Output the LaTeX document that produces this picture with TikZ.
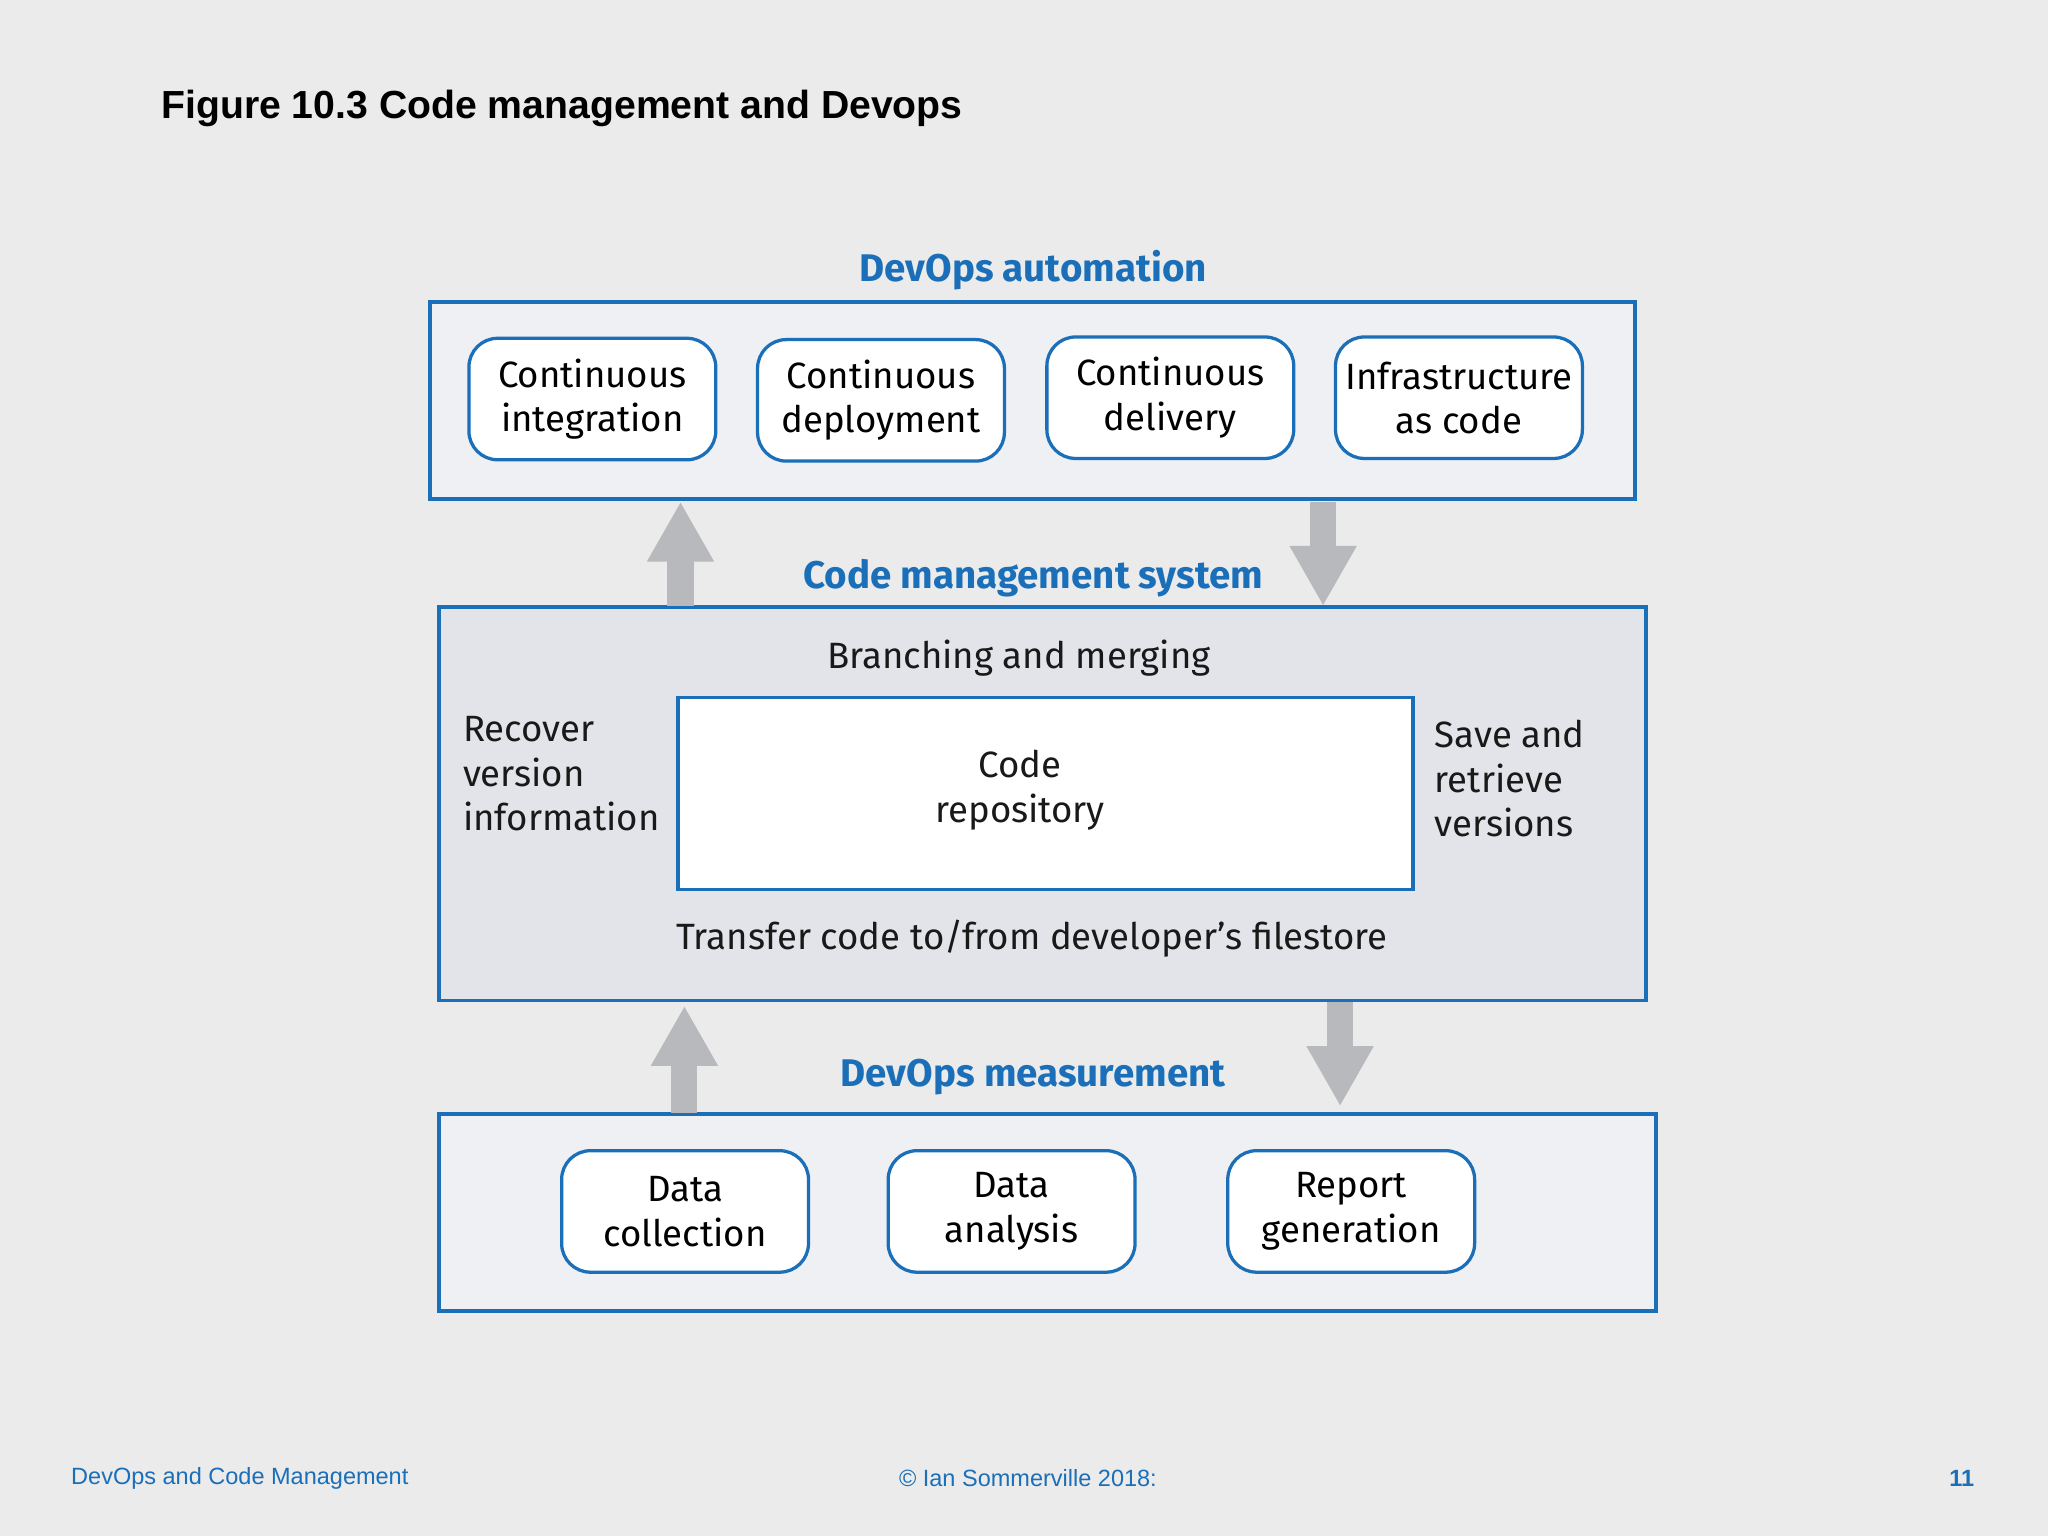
\documentclass[tikz,border=0pt]{standalone}
\usepackage{fontspec}
\setmainfont{Fira Sans}
\newfontfamily\helv{Liberation Sans}
\usetikzlibrary{arrows.meta}
\definecolor{bg}{HTML}{EBEBEC}
\definecolor{dblue}{HTML}{1A6FB8}
\definecolor{boxa}{HTML}{EEF0F4}
\definecolor{boxb}{HTML}{E3E4E9}
\definecolor{arr}{HTML}{B8B9BC}
\tikzset{
  grp/.style={draw=dblue,line width=3pt},
  item/.style={draw=dblue,line width=2.5pt,fill=white,rounded corners=22pt,minimum width=189pt,minimum height=93pt,align=center,font=\fontsize{28}{34}\selectfont,inner sep=0pt},
  ttl/.style={text=dblue,font=\fontsize{29.5}{34}\selectfont\bfseries},
  txt/.style={font=\fontsize{28}{34}\selectfont,text=black!90},
  garrow/.style={draw=arr,line width=20pt,-{Triangle[width=48pt,length=46pt]}},
  foot/.style={font=\helv\fontsize{18}{22}\selectfont,text=dblue}
}
\begin{document}
\begin{tikzpicture}[x=1pt,y=-1pt]
\fill[bg] (0,0) rectangle (1568,1176);
\useasboundingbox (0,0) rectangle (1568,1176);
\node[anchor=west,font=\helv\bfseries\fontsize{30}{36}\selectfont] (title) at (120,83) {Figure 10.3 Code management and Devops};
% top
\node[ttl] (ta) at (791,207) {DevOps automation};
\draw[grp,fill=boxa] (329,231) rectangle (1252,382);
\node[item] (ci) at (453.5,305.5) {Continuous\\integration};
\node[item] (cd) at (674.5,306.5) {Continuous\\deployment};
\node[item] (cdl) at (896,304.5) {Continuous\\delivery};
\node[item] (iac) at (1117,304.5) {Infrastructure\\as code};
% middle
\node[ttl] (tm) at (791,443) {Code management system};
\draw[grp,fill=boxb] (336,465) rectangle (1260,766);
\node[txt] (bm) at (780,504) {Branching and merging};
\draw[grp,fill=white] (519,534) rectangle (1082,681);
\node[txt,align=center] (repo) at (781,605) {Code\\repository};
\node[txt,align=left,anchor=north west] (rec) at (351,545) {Recover\\version\\information};
\node[txt,align=left,anchor=north west] (sav) at (1095,548) {Save and\\retrieve\\versions};
\node[txt] (tr) at (790,719) {Transfer code to/from developer’s filestore};
% bottom
\node[ttl] (tb) at (791,825) {DevOps measurement};
\draw[grp,fill=boxa] (336,853) rectangle (1268,1004);
\node[item] (dc) at (524.5,927.5) {Data\\collection};
\node[item] (da) at (774.5,927.5) {Data\\analysis};
\node[item] (rg) at (1034.5,927.5) {Report\\generation};
% arrows
\coordinate (a1s) at (521,464); \coordinate (a1e) at (521,384);
\coordinate (a2s) at (1013,384); \coordinate (a2e) at (1013,464);
\coordinate (a3s) at (524,852); \coordinate (a3e) at (524,770);
\coordinate (a4s) at (1026,767); \coordinate (a4e) at (1026,847);
\draw[garrow] (a1s) -- (a1e);
\draw[garrow] (a2s) -- (a2e);
\draw[garrow] (a3s) -- (a3e);
\draw[garrow] (a4s) -- (a4e);
% footer
\node[foot,anchor=west] (f1) at (51,1132) {DevOps and Code Management};
\node[foot] (f2) at (787,1132) {© Ian Sommerville 2018:};
\node[foot,font=\helv\bfseries\fontsize{18}{22}\selectfont] (f3) at (1502,1132) {11};
\end{tikzpicture}
\end{document}
